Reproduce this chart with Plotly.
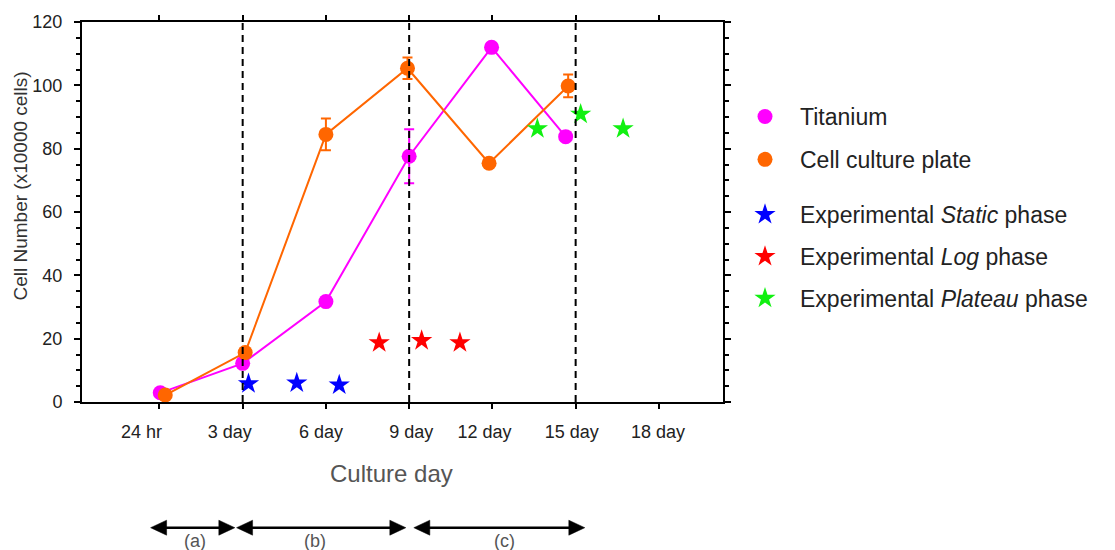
import plotly.graph_objects as go

# ---- data -------------------------------------------------------------
# day ticks on a linear index scale (24 hr = 1 ... 18 day = 7)
day_labels = ["24 hr", "3 day", "6 day", "9 day", "12 day", "15 day", "18 day"]
day_pos = [1, 2, 3, 4, 5, 6, 7]

titanium_x = [1.01, 2.0, 3.0, 4.0, 4.99, 5.88]
titanium_y = [2.9, 12.2, 31.7, 77.6, 112.0, 83.8]
titanium_err = [0, 0, 0, 8.5, 0, 0]

plate_x = [1.07, 2.03, 3.0, 3.98, 4.96, 5.91]
plate_y = [2.2, 15.6, 84.5, 105.4, 75.4, 99.8]
plate_err = [0, 0, 5.0, 3.4, 0, 3.6]

static_x = [2.07, 2.65, 3.16]
static_y = [5.8, 6.0, 5.4]

log_x = [3.64, 4.15, 4.61]
log_y = [18.7, 19.4, 18.7]

plateau_x = [5.54, 6.06, 6.57]
plateau_y = [86.3, 90.9, 86.3]

# days where the growth phases change
phase_bounds = ["3 day", "9 day", "15 day"]

# bracket arrows under the axis: (start, end) on the day index scale
phase_names = ["(a)", "(b)", "(c)"]
phase_spans = [(0.894, 1.906), (1.927, 3.96), (4.056, 6.11)]
phase_label_x = [1.43, 2.867, 5.14]

# ---- layout geometry --------------------------------------------------
W, H = 1115, 550
ML, MR, MT, MB = 82, 392, 22, 148
X_RANGE = [0.07, 7.77]
PLOT_W = W - ML - MR
PLOT_H = H - MT - MB
PX_PER_UNIT = PLOT_W / (X_RANGE[1] - X_RANGE[0])

# horizontal nudge (px) of each day label relative to its tick
label_nudge_px = [-18, -13, -5, 2, -8, -4, -1]

FONT = "Liberation Sans, Arial, Helvetica, sans-serif"
MAGENTA = "#FF00FF"
ORANGE = "#FF6600"


def paper_x(px):
    return (px - ML) / PLOT_W


def paper_y(py):
    return (MT + PLOT_H - py) / PLOT_H


fig = go.Figure()

# connecting lines with error bars (kept out of the legend)
for xs, ys, err, color in ((titanium_x, titanium_y, titanium_err, MAGENTA),
                           (plate_x, plate_y, plate_err, ORANGE)):
    fig.add_trace(go.Scatter(
        x=xs, y=ys, mode="lines", showlegend=False, hoverinfo="skip",
        line=dict(color=color, width=2),
        error_y=dict(type="data", array=err, visible=True,
                     color=color, thickness=2, width=5),
    ))

# circle markers (legend entries)
for xs, ys, name, color, grp in ((titanium_x, titanium_y, "Titanium", MAGENTA, "ti"),
                                 (plate_x, plate_y, "Cell culture plate", ORANGE, "pl8")):
    fig.add_trace(go.Scatter(
        x=xs, y=ys, name=name, mode="markers",
        marker=dict(color=color, size=15, symbol="circle", line=dict(width=0)),
        legendgroup=grp, legend="legend",
    ))

# experimental phase stars (on the overlaid axis that carries the day labels)
star_series = [
    (static_x, static_y, "Experimental <i>Static</i> phase", "#0000FF", "st"),
    (log_x, log_y, "Experimental <i>Log</i> phase", "#FF0000", "lg"),
    (plateau_x, plateau_y, "Experimental <i>Plateau</i> phase", "#11F011", "pt"),
]
for xs, ys, name, color, grp in star_series:
    fig.add_trace(go.Scatter(
        x=xs, y=ys, name=name, mode="markers", xaxis="x2",
        marker=dict(color=color, size=16, symbol="star", line=dict(width=0)),
        legendgroup=grp, legend="legend2",
    ))

# dashed phase boundaries
for lab in phase_bounds:
    xv = day_pos[day_labels.index(lab)]
    fig.add_shape(type="line", xref="x", yref="paper",
                  x0=xv, x1=xv, y0=0, y1=1, layer="above",
                  line=dict(color="black", width=2, dash="7px,5px"))

# double-headed arrows below the axis
arrow_y = paper_y(527.7)
label_y = paper_y(541)
head_len = 16 / PX_PER_UNIT
head_half = 7.5 / PLOT_H
for (x0, x1), name, lx in zip(phase_spans, phase_names, phase_label_x):
    fig.add_shape(type="line", xref="x", yref="paper",
                  x0=x0 + head_len * 0.6, x1=x1 - head_len * 0.6,
                  y0=arrow_y, y1=arrow_y,
                  line=dict(color="black", width=2.5))
    for tip, back in ((x0, x0 + head_len), (x1, x1 - head_len)):
        fig.add_shape(
            type="path", xref="x", yref="paper",
            path=(f"M {tip},{arrow_y} L {back},{arrow_y + head_half} "
                  f"L {back},{arrow_y - head_half} Z"),
            fillcolor="black", line=dict(color="black", width=0.5))
    fig.add_annotation(x=lx, y=label_y, xref="x", yref="paper",
                       xanchor="center", yanchor="middle",
                       text=name, showarrow=False,
                       font=dict(family=FONT, size=18, color="#555555"))

# axis titles
fig.add_annotation(x=paper_x(20), y=paper_y(186.5),
                   xref="paper", yref="paper", xanchor="center", yanchor="middle",
                   text="Cell Number (x10000 cells)", textangle=-90,
                   showarrow=False,
                   font=dict(family=FONT, size=19, color="#333333"))
fig.add_annotation(x=paper_x(391.5), y=paper_y(473),
                   xref="paper", yref="paper", xanchor="center", yanchor="middle",
                   text="Culture day", showarrow=False,
                   font=dict(family=FONT, size=24, color="#555555"))

label_pos = [p + n / PX_PER_UNIT for p, n in zip(day_pos, label_nudge_px)]

legend_common = dict(
    xref="container", yref="container", xanchor="left", yanchor="top",
    traceorder="grouped", itemwidth=60, bgcolor="rgba(0,0,0,0)",
    font=dict(family=FONT, size=23, color="#222222"),
)

fig.update_layout(
    width=W, height=H,
    margin=dict(l=ML, r=MR, t=MT, b=MB, pad=0, autoexpand=False),
    paper_bgcolor="white", plot_bgcolor="white",
    font=dict(family=FONT, color="#222222"),
    xaxis=dict(
        range=X_RANGE, tickvals=day_pos, showticklabels=False,
        ticks="outside", ticklen=5, tickwidth=2, tickcolor="black",
        showline=True, linewidth=2, linecolor="black", mirror="ticks",
        showgrid=False, zeroline=False,
    ),
    xaxis2=dict(
        range=X_RANGE, overlaying="x", anchor="y", side="bottom",
        tickvals=label_pos, ticktext=day_labels, ticks="",
        showline=False, showgrid=False, zeroline=False,
        tickfont=dict(family=FONT, size=18, color="#222222"),
        ticklabelstandoff=17,
    ),
    yaxis=dict(
        range=[0, 120], tickvals=list(range(0, 121, 20)),
        ticks="outside", ticklen=6, tickwidth=2, tickcolor="black",
        minor=dict(dtick=5, ticks="outside", ticklen=4, tickwidth=2,
                   tickcolor="black"),
        showline=True, linewidth=2, linecolor="black", mirror="ticks",
        showgrid=False, zeroline=False,
        tickfont=dict(family=FONT, size=18, color="#222222"),
        ticklabelstandoff=8,
    ),
    legend=dict(x=730 / W, y=1 - 95 / H, tracegroupgap=10, **legend_common),
    legend2=dict(x=730 / W, y=1 - 193 / H, tracegroupgap=9, **legend_common),
)

fig.write_html("out.html")
